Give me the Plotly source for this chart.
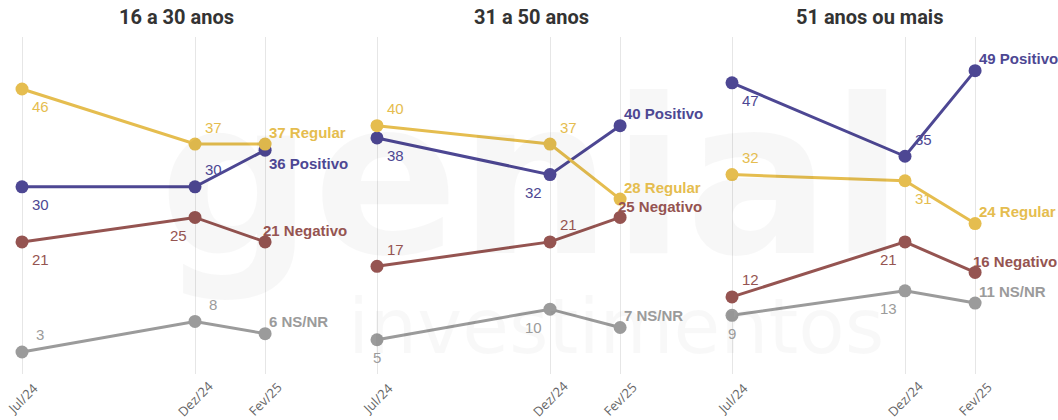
import pandas as pd
import plotly.graph_objects as go

# ---- data ----
panels = ["16 a 30 anos", "31 a 50 anos", "51 anos ou mais"]
dates = ["2024-07-01", "2024-12-01", "2025-02-01"]
tick_labels = ["Jul/24", "Dez/24", "Fev/25"]

nsnr = [[3, 8, 6], [5, 10, 7], [9, 13, 11]]
negativo = [[21, 25, 21], [17, 21, 25], [12, 21, 16]]
positivo = [[30, 30, 36], [38, 32, 40], [47, 35, 49]]
regular = [[46, 37, 37], [40, 37, 28], [32, 31, 24]]

# drawing order: last one on top
series = [
    ("NS/NR", nsnr, "#9b9b9b"),
    ("Negativo", negativo, "#955451"),
    ("Positivo", positivo, "#4d4793"),
    ("Regular", regular, "#e5bd4f"),
]

# where each value label goes relative to its point
placement = {
    "NS/NR": [["ur", "ur", "end"], ["d", "dl", "end"], ["d", "dl", "end"]],
    "Negativo": [["dr", "dl", "endneg"], ["ur", "ur", "endneg"], ["ur", "dl", "endneg"]],
    "Positivo": [["dr", "ur", "enddown"], ["dr", "dl", "end"], ["dr", "ur", "end"]],
    "Regular": [["dr", "ur", "end"], ["ur", "ur", "end"], ["ur", "dr", "end"]],
}
offsets = {
    "ur": dict(xshift=18, yshift=17, xanchor="center"),
    "dr": dict(xshift=18, yshift=-18, xanchor="center"),
    "dl": dict(xshift=-17, yshift=-18, xanchor="center"),
    "d": dict(xshift=0, yshift=-18, xanchor="center"),
    "end": dict(xshift=2, yshift=12, xanchor="left"),
    "enddown": dict(xshift=2, yshift=-13, xanchor="left"),
    "endneg": dict(xshift=-4, yshift=11, xanchor="left"),
}

W, H = 1058, 420
TOP, BOTTOM = 37, 374
# panel pixel extents inside the plot area (margins l=r=0)
panel_px = [(0, 350), (355, 705), (710, 1058)]
title_px = [176, 531, 869]
px_per_day = 173 / 153
first_px = 22


def paper_y(py):
    return (BOTTOM - py) / (BOTTOM - TOP)


fig = go.Figure()
annotations = []
label_font = "Liberation Sans, Arial, sans-serif"

# faint watermark
annotations.append(dict(
    x=0.502, y=0.58, xref="paper", yref="paper", text="<b>genial</b>", showarrow=False,
    font=dict(family="DejaVu Sans, sans-serif", size=215, color="rgba(0,0,0,0.03)"),
    xanchor="center", yanchor="middle",
))
annotations.append(dict(
    x=0.582, y=0.14, xref="paper", yref="paper", text="investimentos", showarrow=False,
    font=dict(family="DejaVu Sans, sans-serif", size=76, color="rgba(0,0,0,0.028)"),
    xanchor="center", yanchor="middle",
))

for i, title in enumerate(panels):
    xa = "x" if i == 0 else f"x{i + 1}"
    ya = "y"
    for name, vals, color in series:
        v = vals[i]
        fig.add_trace(go.Scatter(
            x=dates, y=v, mode="lines+markers",
            line=dict(color=color, width=3),
            marker=dict(color=color, size=13),
            xaxis=xa, yaxis=ya, showlegend=False, name=name,
            cliponaxis=False,
        ))
        for j, val in enumerate(v):
            code = placement[name][i][j]
            off = offsets[code]
            if code.startswith("end"):
                text = f"<b>{val} {name}</b>"
            else:
                text = str(val)
            annotations.append(dict(
                x=dates[j], y=val, xref=xa, yref=ya, text=text,
                showarrow=False, yanchor="middle",
                font=dict(family=label_font, size=15, color=color),
                **off,
            ))

    # rotated tick labels, centred under each tick
    for d, lab in zip(dates, tick_labels):
        annotations.append(dict(
            x=d, y=paper_y(399), xref=xa, yref="paper", text=lab,
            showarrow=False, textangle=-45, xanchor="center", yanchor="middle",
            font=dict(family="Open Sans, sans-serif", size=13, color="#666666"),
        ))

    # panel title
    annotations.append(dict(
        x=title_px[i] / W, y=paper_y(17), xref="paper", yref="paper",
        text=f"<b>{title}</b>", showarrow=False,
        xanchor="center", yanchor="middle",
        font=dict(family="Roboto, sans-serif", size=20, color="#333333"),
    ))

layout = dict(
    width=W, height=H,
    margin=dict(l=0, r=0, t=TOP, b=H - BOTTOM),
    paper_bgcolor="white", plot_bgcolor="white",
    annotations=annotations,
    yaxis=dict(range=[-0.6, 54.5], visible=False, fixedrange=True),
)
for i in range(3):
    x0, x1 = panel_px[i]
    start = pd.Timestamp(dates[0]) - pd.Timedelta(days=first_px / px_per_day)
    end = start + pd.Timedelta(days=(x1 - x0) / px_per_day)
    key = "xaxis" if i == 0 else f"xaxis{i + 1}"
    layout[key] = dict(
        domain=[x0 / W, x1 / W], type="date",
        range=[start.isoformat(), end.isoformat()],
        tickvals=dates, showticklabels=False,
        showgrid=True, gridcolor="#e6e6e6", gridwidth=1,
        zeroline=False, showline=False, ticks="",
        anchor="y", fixedrange=True,
    )

fig.update_layout(**layout)
fig.write_html("out.html", config={"displayModeBar": False},
               post_script="document.body.style.margin='0px';")
